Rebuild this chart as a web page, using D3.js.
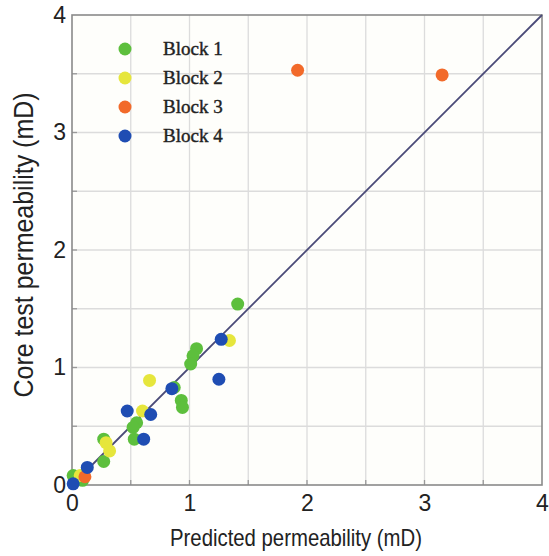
<!DOCTYPE html>
<html><head><meta charset="utf-8">
<script src="https://cdn.jsdelivr.net/npm/d3@7"></script>
<style>body{margin:0;background:#fff}svg{display:block}</style>
</head><body>
<script>
const seriesNames = ["Block 1","Block 2","Block 3","Block 4"];
const seriesColors = ["#5dbf3d","#e6e63c","#f26a2a","#1f4db3"];
const block1X = [1.41,1.06,1.03,1.01,0.87,0.93,0.94,0.55,0.52,0.53,0.27,0.27,0.01,0.09];
const block1Y = [1.54,1.16,1.10,1.03,0.83,0.72,0.66,0.53,0.49,0.39,0.39,0.20,0.08,0.04];
const block2X = [1.34,0.66,0.60,0.29,0.32,0.07];
const block2Y = [1.23,0.89,0.63,0.36,0.29,0.08];
const block3X = [1.92,3.15,0.11];
const block3Y = [3.53,3.49,0.07];
const block4X = [1.27,1.25,0.85,0.47,0.67,0.61,0.13,0.01];
const block4Y = [1.24,0.90,0.82,0.63,0.60,0.39,0.15,0.01];
const xTicks = [0,1,2,3,4];
const yTicks = [0,1,2,3,4];
const gridVals = [0.5,1,1.5,2,2.5,3,3.5];

const W=549,H=556;
const m={l:72,r:7,t:15,b:71};
const FN="'Liberation Sans', Arial, sans-serif";
const svg=d3.select("body").append("svg").attr("width",W).attr("height",H);
const x=d3.scaleLinear().domain([0,4]).range([m.l,W-m.r]);
const y=d3.scaleLinear().domain([0,4]).range([H-m.b,m.t]);

svg.append("rect").attr("x",x(0)).attr("y",y(4)).attr("width",x(4)-x(0)).attr("height",y(0)-y(4)).attr("fill","#fefefb");
const g=svg.append("g");
g.selectAll(".gx").data(gridVals).join("line").attr("x1",d=>x(d)).attr("x2",d=>x(d)).attr("y1",y(0)).attr("y2",y(4)).attr("stroke","#dcdcdc").attr("stroke-width",1.3);
g.selectAll(".gy").data(gridVals).join("line").attr("y1",d=>y(d)).attr("y2",d=>y(d)).attr("x1",x(0)).attr("x2",x(4)).attr("stroke","#dcdcdc").attr("stroke-width",1.3);

const xAxis=svg.append("g").attr("transform",`translate(0,${y(0)})`).call(d3.axisBottom(x).tickValues(xTicks).tickFormat(d3.format("d")).tickSize(0).tickPadding(10));
const yAxis=svg.append("g").attr("transform",`translate(${x(0)},0)`).call(d3.axisLeft(y).tickValues(yTicks).tickFormat(d3.format("d")).tickSize(0).tickPadding(6));
[xAxis,yAxis].forEach(a=>{a.select(".domain").remove();a.selectAll("text").attr("font-family",FN).attr("font-size",23).attr("fill","#222");});
// inward ticks
svg.selectAll(".tx").data(gridVals).join("line").attr("x1",d=>x(d)).attr("x2",d=>x(d)).attr("y1",y(0)).attr("y2",y(0)-5).attr("stroke","#999").attr("stroke-width",1.3);
svg.selectAll(".ty").data(gridVals).join("line").attr("y1",d=>y(d)).attr("y2",d=>y(d)).attr("x1",x(0)).attr("x2",x(0)+5).attr("stroke","#999").attr("stroke-width",1.3);
svg.append("rect").attr("x",x(0)).attr("y",y(4)).attr("width",x(4)-x(0)).attr("height",y(0)-y(4)).attr("fill","none").attr("stroke","#8a8a8a").attr("stroke-width",1.6);

// diagonal
svg.append("line").attr("x1",x(0)).attr("y1",y(0)).attr("x2",x(4)).attr("y2",y(4)).attr("stroke","#4a4a78").attr("stroke-width",1.8);

const series=[[block1X,block1Y],[block2X,block2Y],[block3X,block3Y],[block4X,block4Y]];
series.forEach((s,i)=>{
  const pts=s[0].map((v,k)=>[v,s[1][k]]);
  svg.append("g").selectAll("circle").data(pts).join("circle").attr("cx",d=>x(d[0])).attr("cy",d=>y(d[1])).attr("r",6.5).attr("fill",seriesColors[i]);
});

// legend
const lg=svg.append("g");
seriesNames.forEach((n,i)=>{
  const yy=49+i*29;
  lg.append("circle").attr("cx",125).attr("cy",yy).attr("r",6.5).attr("fill",seriesColors[i]);
  lg.append("text").attr("x",163).attr("y",yy+6).text(n).attr("font-family","'Liberation Serif', 'Times New Roman', serif").attr("font-size",19).attr("fill","#222").attr("stroke","#222").attr("stroke-width",0.4);
});

svg.append("text").attr("x",296).attr("y",546).attr("text-anchor","middle").text("Predicted permeability (mD)").attr("font-family",FN).attr("font-size",24).attr("fill","#222").attr("textLength",252).attr("lengthAdjust","spacingAndGlyphs");
svg.append("text").attr("transform",`translate(33,245) rotate(-90)`).attr("text-anchor","middle").text("Core test permeability (mD)").attr("font-family",FN).attr("font-size",27).attr("fill","#222").attr("textLength",305).attr("lengthAdjust","spacingAndGlyphs");
</script>
</body></html>
